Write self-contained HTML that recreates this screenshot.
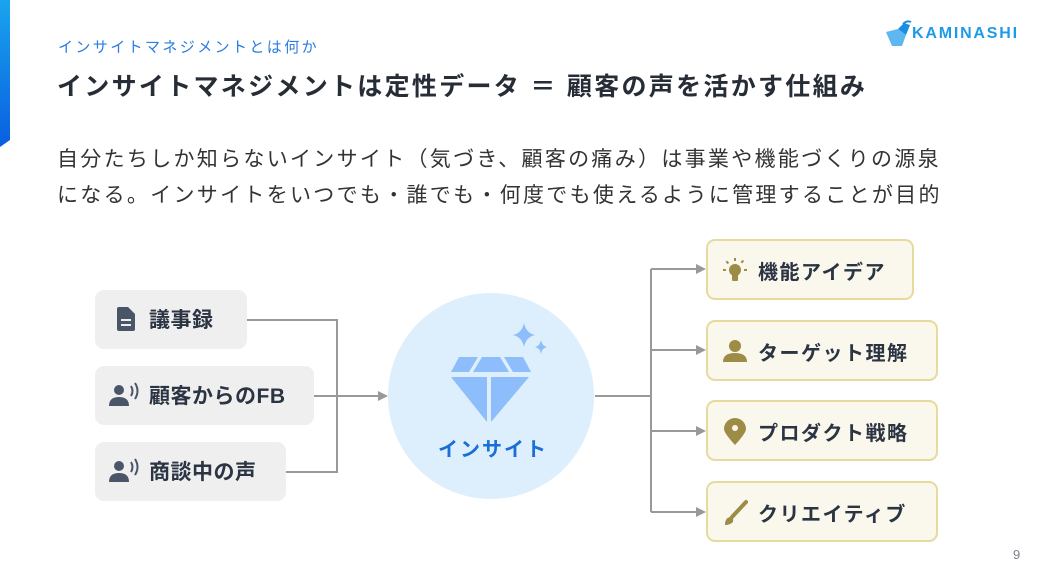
<!DOCTYPE html>
<html><head><meta charset="utf-8"><style>
body{margin:0;width:1041px;height:586px;background:#fff;position:relative;overflow:hidden;font-family:"Liberation Sans","Noto Sans CJK JP",sans-serif;}
.a{position:absolute;white-space:nowrap;}
.lb{position:absolute;background:#efefef;border-radius:9px;height:59px;}
.lb span{position:absolute;left:54px;top:14px;font-size:21px;font-weight:bold;color:#2b3442;letter-spacing:0.5px}
.rb{position:absolute;background:#faf7ec;border:2px solid #e6da9e;border-radius:9px;box-sizing:border-box;height:61px;left:706px;}
.rb span{position:absolute;left:50px;top:15px;font-size:20px;font-weight:bold;color:#2b3442;letter-spacing:1.5px;}
</style></head><body>
<svg class="a" style="left:0;top:0" width="12" height="150"><defs><linearGradient id="g" x1="0" y1="0" x2="0" y2="1"><stop offset="0" stop-color="#19a4ee"/><stop offset="1" stop-color="#0a5ee0"/></linearGradient></defs><polygon points="0,0 10,0 10,140 0,147" fill="url(#g)"/></svg>
<div class="a" style="left:58px;top:36px;font-size:15px;color:#2a7de1;letter-spacing:2.4px">インサイトマネジメントとは何か</div>
<div class="a" style="left:57px;top:67px;font-size:25px;color:#272d36;letter-spacing:2.3px;font-weight:bold">インサイトマネジメントは定性データ ＝ 顧客の声を活かす仕組み</div>
<div class="a" style="left:57px;top:142px;font-size:21px;color:#333;letter-spacing:2.3px;line-height:36px">自分たちしか知らないインサイト（気づき、顧客の痛み）は事業や機能づくりの源泉<br>になる。インサイトをいつでも・誰でも・何度でも使えるように管理することが目的</div>
<div class="a" style="left:884px;top:20px;"><svg width="30" height="28"><polygon points="2,12 14,9 22,15 18,26 8,26" fill="#5db8f0"/><polygon points="14,9 20,3 26,5 22,15" fill="#1a8fe0"/><path d="M19,4 Q23,0 27,2" stroke="#1a8fe0" stroke-width="2" fill="none"/></svg></div>
<div class="a" style="left:912px;top:25px;font-size:16px;font-weight:bold;color:#1e9be8;letter-spacing:1.8px">KAMINASHI</div>
<svg class="a" style="left:0;top:0" width="1041" height="586">
<g stroke="#999" stroke-width="2" fill="none">
<polyline points="247,320 337,320 337,472 286,472"/>
<line x1="314" y1="396" x2="380" y2="396"/>
<line x1="595" y1="396" x2="651" y2="396"/>
<line x1="651" y1="269" x2="651" y2="512"/>
<line x1="651" y1="269" x2="697" y2="269"/>
<line x1="651" y1="350" x2="697" y2="350"/>
<line x1="651" y1="431" x2="697" y2="431"/>
<line x1="651" y1="512" x2="697" y2="512"/>
</g>
<g fill="#999">
<polygon points="378,391 388,396 378,401"/>
<polygon points="696,264 706,269 696,274"/>
<polygon points="696,345 706,350 696,355"/>
<polygon points="696,426 706,431 696,436"/>
<polygon points="696,507 706,512 696,517"/>
</g>
<circle cx="491" cy="396" r="103" fill="#ddeefd"/>
<g fill="#8dbdfa">
<polygon points="459,357 478,357 469,372 451,372"/>
<polygon points="482,357 500,357 509,372 473,372"/>
<polygon points="504,357 523,357 531,372 513,372"/>
<polygon points="451,377 487,377 487,422"/>
<polygon points="491,377 529,377 491,422"/>
<path d="M524,323 Q526,333 535,335 Q526,337 524,347 Q522,337 513,335 Q522,333 524,323Z"/>
<path d="M541,340 Q542,346 547,347 Q542,348 541,354 Q540,348 535,347 Q540,346 541,340Z"/>
</g>
<text x="493" y="456" text-anchor="middle" font-size="20" font-weight="bold" fill="#1a6fd6" letter-spacing="2" font-family="Liberation Sans, Noto Sans CJK JP, sans-serif">インサイト</text>
</svg>
<div class="lb" style="left:95px;top:290px;width:152px"><svg class="a" style="left:22px;top:17px" width="18" height="24"><path d="M0,2 Q0,0 2,0 L11,0 L18,7 L18,22 Q18,24 16,24 L2,24 Q0,24 0,22Z" fill="#4a5568"/><rect x="4" y="12" width="10" height="2" fill="#efefef"/><rect x="4" y="17" width="10" height="2" fill="#efefef"/></svg><span>議事録</span></div>
<div class="lb" style="left:95px;top:366px;width:219px"><svg class="a" style="left:14px;top:16px" width="30" height="26"><circle cx="10" cy="8" r="5" fill="#4a5568"/><path d="M0,24 Q0,15 10,15 Q20,15 20,24Z" fill="#4a5568"/><path d="M22,4 Q25,9 22,14 M26,1 Q31,9 26,17" stroke="#4a5568" stroke-width="2" fill="none"/></svg><span>顧客からのFB</span></div>
<div class="lb" style="left:95px;top:442px;width:191px"><svg class="a" style="left:14px;top:16px" width="30" height="26"><circle cx="10" cy="8" r="5" fill="#4a5568"/><path d="M0,24 Q0,15 10,15 Q20,15 20,24Z" fill="#4a5568"/><path d="M22,4 Q25,9 22,14 M26,1 Q31,9 26,17" stroke="#4a5568" stroke-width="2" fill="none"/></svg><span>商談中の声</span></div>
<div class="rb" style="top:239px;width:208px"><svg class="a" style="left:12px;top:16px" width="30" height="28"><g fill="#9c8c45"><circle cx="15" cy="13" r="6"/><rect x="12" y="17" width="6" height="7" rx="1"/><rect x="14" y="1" width="2" height="3"/><rect x="3" y="12" width="3" height="2"/><rect x="24" y="12" width="3" height="2"/><rect x="6" y="4" width="3" height="2" transform="rotate(45 7 5)"/><rect x="21" y="4" width="3" height="2" transform="rotate(-45 22 5)"/></g></svg><span>機能アイデア</span></div>
<div class="rb" style="top:320px;width:232px"><svg class="a" style="left:14px;top:17px" width="26" height="24"><circle cx="13" cy="7" r="6" fill="#9c8c45"/><path d="M1,23 Q1,14 13,14 Q25,14 25,23Z" fill="#9c8c45"/></svg><span>ターゲット理解</span></div>
<div class="rb" style="top:400px;width:232px"><svg class="a" style="left:16px;top:16px" width="22" height="28"><path d="M11,27 Q0,15 0,11 A11,11 0 0 1 22,11 Q22,15 11,27Z" fill="#9c8c45"/><circle cx="11" cy="10" r="3" fill="#faf7ec"/></svg><span>プロダクト戦略</span></div>
<div class="rb" style="top:481px;width:232px"><svg class="a" style="left:14px;top:16px" width="26" height="28"><line x1="10" y1="18" x2="24" y2="3" stroke="#9c8c45" stroke-width="4" stroke-linecap="round"/><path d="M3,26 Q3,19 8,18 Q12,19 11,23 Q8,26 3,26Z" fill="#9c8c45"/></svg><span>クリエイティブ</span></div>
<div class="a" style="left:1013px;top:547px;font-size:13px;color:#7a808a">9</div>
</body></html>
